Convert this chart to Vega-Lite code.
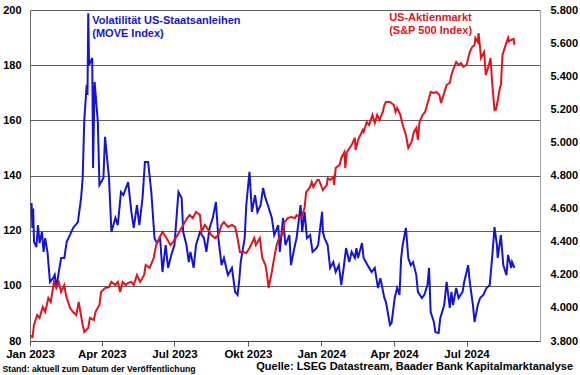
{
  "$schema": "https://vega.github.io/schema/vega-lite/v6.json",
  "width": 510,
  "height": 331,
  "autosize": {"type": "none"},
  "padding": {"left": 30, "top": 10, "right": 40, "bottom": 34},
  "background": "white",
  "config": {
    "view": {"stroke": null},
    "font": "Liberation Sans",
    "axis": {"labelFont": "Liberation Sans", "labelFontWeight": "bold", "labelFontSize": 11, "labelColor": "black"}
  },
  "title": {
    "text": "Quelle: LSEG Datastream, Baader Bank Kapitalmarktanalyse",
    "orient": "bottom", "anchor": "end", "frame": "group",
    "font": "Liberation Sans", "fontSize": 11, "fontWeight": "bold", "color": "black",
    "dx": 33, "dy": -12, "offset": 0
  },
  "datasets": {
    "move": [
      {"date":"2023-01-03","value":130},{"date":"2023-01-04","value":121},{"date":"2023-01-05","value":128},{"date":"2023-01-06","value":116},{"date":"2023-01-09","value":114},{"date":"2023-01-11","value":122},{"date":"2023-01-13","value":115.5},{"date":"2023-01-16","value":119.5},{"date":"2023-01-18","value":112.3},{"date":"2023-01-20","value":117.3},{"date":"2023-01-23","value":112},{"date":"2023-01-26","value":101.4},{"date":"2023-01-30","value":102.8},{"date":"2023-02-01","value":104},{"date":"2023-02-03","value":99.2},{"date":"2023-02-06","value":105},{"date":"2023-02-09","value":110.1},{"date":"2023-02-13","value":110.1},{"date":"2023-02-16","value":116},{"date":"2023-02-20","value":118.4},{"date":"2023-02-24","value":121},{"date":"2023-03-02","value":123.1},{"date":"2023-03-06","value":131.8},{"date":"2023-03-08","value":139.1},{"date":"2023-03-10","value":160},{"date":"2023-03-13","value":172.8},{"date":"2023-03-14","value":169.2},{"date":"2023-03-15","value":198.8},{"date":"2023-03-16","value":180.1},{"date":"2023-03-20","value":182.6},{"date":"2023-03-21","value":142.7},{"date":"2023-03-23","value":173.9},{"date":"2023-03-27","value":159.4},{"date":"2023-03-29","value":136.5},{"date":"2023-04-03","value":139.1},{"date":"2023-04-05","value":154},{"date":"2023-04-10","value":139.1},{"date":"2023-04-13","value":119.5},{"date":"2023-04-18","value":124.6},{"date":"2023-04-21","value":122},{"date":"2023-04-25","value":134},{"date":"2023-04-28","value":132.9},{"date":"2023-05-04","value":137.6},{"date":"2023-05-08","value":126.8},{"date":"2023-05-11","value":121},{"date":"2023-05-15","value":129.3},{"date":"2023-05-18","value":122},{"date":"2023-05-22","value":131.8},{"date":"2023-05-25","value":144.9},{"date":"2023-05-29","value":144.9},{"date":"2023-06-02","value":134},{"date":"2023-06-06","value":117.3},{"date":"2023-06-09","value":115.5},{"date":"2023-06-13","value":117.3},{"date":"2023-06-16","value":105},{"date":"2023-06-20","value":114.8},{"date":"2023-06-23","value":106.5},{"date":"2023-06-27","value":111.2},{"date":"2023-07-01","value":114.8},{"date":"2023-07-06","value":134},{"date":"2023-07-10","value":131.8},{"date":"2023-07-12","value":119.5},{"date":"2023-07-16","value":114.8},{"date":"2023-07-19","value":108.6},{"date":"2023-07-21","value":112.3},{"date":"2023-07-25","value":106.5},{"date":"2023-07-28","value":114.8},{"date":"2023-08-02","value":119.5},{"date":"2023-08-07","value":117.3},{"date":"2023-08-10","value":112.3},{"date":"2023-08-14","value":121},{"date":"2023-08-18","value":124.6},{"date":"2023-08-22","value":130.4},{"date":"2023-08-25","value":117.3},{"date":"2023-08-29","value":107.5},{"date":"2023-09-01","value":110.1},{"date":"2023-09-06","value":103.9},{"date":"2023-09-11","value":106.5},{"date":"2023-09-15","value":97.8},{"date":"2023-09-18","value":96.7},{"date":"2023-09-20","value":101.4},{"date":"2023-09-22","value":108.6},{"date":"2023-09-27","value":117.3},{"date":"2023-09-29","value":129.3},{"date":"2023-10-03","value":141.3},{"date":"2023-10-06","value":126.8},{"date":"2023-10-10","value":132.9},{"date":"2023-10-13","value":126.8},{"date":"2023-10-17","value":129.3},{"date":"2023-10-20","value":135.5},{"date":"2023-10-23","value":131.8},{"date":"2023-10-26","value":129.3},{"date":"2023-10-31","value":124.6},{"date":"2023-11-03","value":118.4},{"date":"2023-11-08","value":122},{"date":"2023-11-10","value":112.3},{"date":"2023-11-14","value":124.6},{"date":"2023-11-17","value":114.8},{"date":"2023-11-22","value":118.4},{"date":"2023-11-24","value":107.5},{"date":"2023-11-29","value":114.8},{"date":"2023-12-01","value":117.3},{"date":"2023-12-06","value":129.3},{"date":"2023-12-08","value":119.5},{"date":"2023-12-11","value":126.8},{"date":"2023-12-14","value":117.3},{"date":"2023-12-18","value":118.4},{"date":"2023-12-21","value":112.3},{"date":"2023-12-26","value":113.7},{"date":"2023-12-28","value":114.8},{"date":"2024-01-02","value":126.8},{"date":"2024-01-03","value":119.5},{"date":"2024-01-05","value":117.3},{"date":"2024-01-09","value":114.8},{"date":"2024-01-12","value":106.5},{"date":"2024-01-16","value":108.6},{"date":"2024-01-19","value":105},{"date":"2024-01-23","value":107.5},{"date":"2024-01-26","value":100.3},{"date":"2024-01-29","value":106.5},{"date":"2024-02-01","value":113.7},{"date":"2024-02-05","value":108.6},{"date":"2024-02-08","value":112.3},{"date":"2024-02-12","value":110.1},{"date":"2024-02-14","value":113.7},{"date":"2024-02-16","value":110.1},{"date":"2024-02-21","value":115.5},{"date":"2024-02-23","value":110.1},{"date":"2024-02-28","value":107.5},{"date":"2024-03-04","value":105},{"date":"2024-03-08","value":106.5},{"date":"2024-03-12","value":99.2},{"date":"2024-03-15","value":102.8},{"date":"2024-03-20","value":95.6},{"date":"2024-03-22","value":94.1},{"date":"2024-03-27","value":85.8},{"date":"2024-03-29","value":86.5},{"date":"2024-04-02","value":95.6},{"date":"2024-04-05","value":99.2},{"date":"2024-04-08","value":96.7},{"date":"2024-04-10","value":110.1},{"date":"2024-04-12","value":114.8},{"date":"2024-04-16","value":121},{"date":"2024-04-19","value":110.1},{"date":"2024-04-22","value":107.5},{"date":"2024-04-25","value":108.6},{"date":"2024-04-29","value":103.9},{"date":"2024-05-01","value":97.8},{"date":"2024-05-06","value":95.6},{"date":"2024-05-09","value":96.7},{"date":"2024-05-13","value":100.3},{"date":"2024-05-15","value":106.5},{"date":"2024-05-17","value":90.5},{"date":"2024-05-21","value":86.9},{"date":"2024-05-23","value":83.2},{"date":"2024-05-27","value":82.9},{"date":"2024-05-29","value":88.3},{"date":"2024-06-03","value":93},{"date":"2024-06-06","value":101.4},{"date":"2024-06-10","value":92},{"date":"2024-06-12","value":97.8},{"date":"2024-06-14","value":93},{"date":"2024-06-18","value":99.2},{"date":"2024-06-21","value":95.6},{"date":"2024-06-26","value":97.8},{"date":"2024-06-28","value":101.4},{"date":"2024-07-03","value":107.5},{"date":"2024-07-05","value":101.4},{"date":"2024-07-09","value":93},{"date":"2024-07-11","value":86.9},{"date":"2024-07-15","value":93},{"date":"2024-07-18","value":95.6},{"date":"2024-07-22","value":96.7},{"date":"2024-07-26","value":99.2},{"date":"2024-07-30","value":100.3},{"date":"2024-08-02","value":110.1},{"date":"2024-08-05","value":121.3},{"date":"2024-08-08","value":114.8},{"date":"2024-08-09","value":110.1},{"date":"2024-08-13","value":118.4},{"date":"2024-08-16","value":107.5},{"date":"2024-08-20","value":103.9},{"date":"2024-08-22","value":111.2},{"date":"2024-08-26","value":106.5},{"date":"2024-08-27","value":108.6},{"date":"2024-08-30","value":106.5}
    ],
    "spx": [
      {"date":"2023-01-03","value":3836},{"date":"2023-01-04","value":3818},{"date":"2023-01-06","value":3897},{"date":"2023-01-10","value":3957},{"date":"2023-01-13","value":3939},{"date":"2023-01-17","value":4006},{"date":"2023-01-20","value":3975},{"date":"2023-01-24","value":4060},{"date":"2023-01-27","value":4036},{"date":"2023-01-31","value":4157},{"date":"2023-02-03","value":4120},{"date":"2023-02-06","value":4157},{"date":"2023-02-09","value":4096},{"date":"2023-02-13","value":4138},{"date":"2023-02-15","value":4078},{"date":"2023-02-20","value":4000},{"date":"2023-02-24","value":3975},{"date":"2023-02-28","value":3957},{"date":"2023-03-03","value":4036},{"date":"2023-03-08","value":3897},{"date":"2023-03-10","value":3855},{"date":"2023-03-15","value":3879},{"date":"2023-03-17","value":3939},{"date":"2023-03-22","value":3927},{"date":"2023-03-24","value":3975},{"date":"2023-03-29","value":4018},{"date":"2023-03-31","value":4096},{"date":"2023-04-05","value":4120},{"date":"2023-04-10","value":4126},{"date":"2023-04-13","value":4157},{"date":"2023-04-18","value":4138},{"date":"2023-04-21","value":4157},{"date":"2023-04-24","value":4096},{"date":"2023-04-27","value":4157},{"date":"2023-05-01","value":4138},{"date":"2023-05-04","value":4151},{"date":"2023-05-08","value":4157},{"date":"2023-05-11","value":4138},{"date":"2023-05-15","value":4199},{"date":"2023-05-19","value":4157},{"date":"2023-05-24","value":4199},{"date":"2023-05-26","value":4259},{"date":"2023-05-31","value":4241},{"date":"2023-06-05","value":4302},{"date":"2023-06-08","value":4380},{"date":"2023-06-12","value":4422},{"date":"2023-06-16","value":4459},{"date":"2023-06-21","value":4422},{"date":"2023-06-26","value":4380},{"date":"2023-06-29","value":4398},{"date":"2023-07-05","value":4441},{"date":"2023-07-07","value":4459},{"date":"2023-07-12","value":4501},{"date":"2023-07-17","value":4543},{"date":"2023-07-20","value":4561},{"date":"2023-07-24","value":4543},{"date":"2023-07-28","value":4580},{"date":"2023-08-02","value":4561},{"date":"2023-08-04","value":4459},{"date":"2023-08-08","value":4501},{"date":"2023-08-11","value":4483},{"date":"2023-08-16","value":4441},{"date":"2023-08-21","value":4422},{"date":"2023-08-25","value":4441},{"date":"2023-08-29","value":4501},{"date":"2023-09-01","value":4519},{"date":"2023-09-06","value":4489},{"date":"2023-09-11","value":4501},{"date":"2023-09-15","value":4489},{"date":"2023-09-18","value":4422},{"date":"2023-09-21","value":4338},{"date":"2023-09-25","value":4338},{"date":"2023-09-29","value":4332},{"date":"2023-10-03","value":4362},{"date":"2023-10-09","value":4422},{"date":"2023-10-11","value":4380},{"date":"2023-10-16","value":4422},{"date":"2023-10-19","value":4302},{"date":"2023-10-23","value":4259},{"date":"2023-10-25","value":4199},{"date":"2023-10-27","value":4120},{"date":"2023-10-31","value":4217},{"date":"2023-11-02","value":4277},{"date":"2023-11-06","value":4380},{"date":"2023-11-09","value":4422},{"date":"2023-11-13","value":4441},{"date":"2023-11-16","value":4519},{"date":"2023-11-20","value":4543},{"date":"2023-11-24","value":4549},{"date":"2023-11-29","value":4543},{"date":"2023-12-01","value":4561},{"date":"2023-12-07","value":4543},{"date":"2023-12-11","value":4604},{"date":"2023-12-13","value":4700},{"date":"2023-12-18","value":4731},{"date":"2023-12-20","value":4761},{"date":"2023-12-22","value":4731},{"date":"2023-12-27","value":4773},{"date":"2023-12-29","value":4773},{"date":"2024-01-03","value":4712},{"date":"2024-01-08","value":4743},{"date":"2024-01-09","value":4785},{"date":"2024-01-12","value":4773},{"date":"2024-01-16","value":4791},{"date":"2024-01-17","value":4743},{"date":"2024-01-19","value":4845},{"date":"2024-01-24","value":4864},{"date":"2024-01-26","value":4906},{"date":"2024-01-30","value":4942},{"date":"2024-01-31","value":4845},{"date":"2024-02-02","value":4942},{"date":"2024-02-08","value":4984},{"date":"2024-02-12","value":5027},{"date":"2024-02-13","value":4954},{"date":"2024-02-16","value":5015},{"date":"2024-02-22","value":5075},{"date":"2024-02-23","value":5063},{"date":"2024-02-27","value":5123},{"date":"2024-03-01","value":5105},{"date":"2024-03-05","value":5166},{"date":"2024-03-08","value":5117},{"date":"2024-03-11","value":5166},{"date":"2024-03-14","value":5135},{"date":"2024-03-18","value":5184},{"date":"2024-03-20","value":5226},{"date":"2024-03-22","value":5244},{"date":"2024-03-27","value":5244},{"date":"2024-04-01","value":5226},{"date":"2024-04-03","value":5184},{"date":"2024-04-05","value":5208},{"date":"2024-04-09","value":5166},{"date":"2024-04-12","value":5105},{"date":"2024-04-16","value":5045},{"date":"2024-04-19","value":4966},{"date":"2024-04-23","value":5003},{"date":"2024-04-26","value":5063},{"date":"2024-04-29","value":5087},{"date":"2024-05-01","value":5015},{"date":"2024-05-03","value":5123},{"date":"2024-05-07","value":5166},{"date":"2024-05-10","value":5184},{"date":"2024-05-15","value":5268},{"date":"2024-05-17","value":5305},{"date":"2024-05-21","value":5299},{"date":"2024-05-24","value":5305},{"date":"2024-05-28","value":5286},{"date":"2024-05-30","value":5238},{"date":"2024-06-03","value":5299},{"date":"2024-06-06","value":5347},{"date":"2024-06-10","value":5359},{"date":"2024-06-12","value":5407},{"date":"2024-06-14","value":5437},{"date":"2024-06-18","value":5486},{"date":"2024-06-21","value":5468},{"date":"2024-06-24","value":5480},{"date":"2024-06-27","value":5456},{"date":"2024-07-01","value":5468},{"date":"2024-07-05","value":5546},{"date":"2024-07-08","value":5576},{"date":"2024-07-11","value":5589},{"date":"2024-07-12","value":5631},{"date":"2024-07-15","value":5607},{"date":"2024-07-16","value":5661},{"date":"2024-07-18","value":5570},{"date":"2024-07-19","value":5510},{"date":"2024-07-23","value":5546},{"date":"2024-07-25","value":5407},{"date":"2024-07-29","value":5468},{"date":"2024-07-31","value":5510},{"date":"2024-08-02","value":5365},{"date":"2024-08-05","value":5196},{"date":"2024-08-07","value":5200},{"date":"2024-08-08","value":5226},{"date":"2024-08-12","value":5335},{"date":"2024-08-13","value":5347},{"date":"2024-08-15","value":5528},{"date":"2024-08-19","value":5589},{"date":"2024-08-22","value":5631},{"date":"2024-08-23","value":5610},{"date":"2024-08-26","value":5619},{"date":"2024-08-29","value":5625},{"date":"2024-08-30","value":5589}
    ]
  },
  "layer": [
    {
      "layer": [
        {
          "data": {"name": "move"},
          "mark": {"type": "line", "color": "#1414d4", "strokeWidth": 2, "clip": true},
          "encoding": {
            "x": {
              "field": "date", "type": "temporal",
              "scale": {"domain": [{"year": 2023, "month": 1, "date": 1}, {"year": 2024, "month": 10, "date": 1}]},
              "axis": {
                "values": [{"year": 2023, "month": 1, "date": 1}, {"year": 2023, "month": 4, "date": 1}, {"year": 2023, "month": 7, "date": 1}, {"year": 2023, "month": 10, "date": 1}, {"year": 2024, "month": 1, "date": 1}, {"year": 2024, "month": 4, "date": 1}, {"year": 2024, "month": 7, "date": 1}],
                "labelExpr": "['Jan','Feb','Mär','Apr','Mai','Jun','Jul','Aug','Sep','Okt','Nov','Dez'][month(datum.value)] + ' ' + year(datum.value)",
                "labelFlush": false, "labelOverlap": false, "labelFontSize": 11.5, "labelPadding": 2,
                "grid": false, "tickSize": 5, "tickColor": "#555555", "domainColor": "#444444",
                "title": "Stand: aktuell zum Datum der Veröffentlichung",
                "titleFont": "Liberation Sans", "titleFontSize": 8.7, "titleFontWeight": "bold", "titleColor": "black",
                "titleAnchor": "start", "titleAlign": "left", "titleBaseline": "middle", "titleX": -28, "titleY": 27
              }
            },
            "y": {
              "field": "value", "type": "quantitative",
              "scale": {"domain": [80, 200], "nice": false, "zero": false},
              "axis": {
                "values": [80, 100, 120, 140, 160, 180, 200],
                "labelOverlap": false,
                "grid": true, "gridColor": "#5f5f5f", "gridWidth": 1,
                "ticks": false, "domainColor": "#666666", "labelPadding": 9, "title": null
              }
            }
          }
        },
        {
          "data": {"values": [{"series": "MOVE"}]},
          "mark": {"type": "text", "text": ["Volatilität US-Staatsanleihen", "(MOVE Index)"], "align": "left", "baseline": "alphabetic", "lineHeight": 12.5, "font": "Liberation Sans", "fontSize": 11, "fontWeight": "bold", "color": "#1414d4"},
          "encoding": {
            "x": {"datum": {"year": 2023, "month": 3, "date": 20}, "type": "temporal"},
            "y": {"datum": 194.9, "type": "quantitative"}
          }
        },
        {
          "data": {"values": [{"series": "S&P 500"}]},
          "mark": {"type": "text", "text": ["US-Aktienmarkt", "(S&P 500 Index)"], "align": "left", "baseline": "alphabetic", "lineHeight": 12.5, "font": "Liberation Sans", "fontSize": 11, "fontWeight": "bold", "color": "#e3131b"},
          "encoding": {
            "x": {"datum": {"year": 2024, "month": 3, "date": 26}, "type": "temporal"},
            "y": {"datum": 196.0, "type": "quantitative"}
          }
        }
      ]
    },
    {
      "data": {"name": "spx"},
      "mark": {"type": "line", "color": "#e3131b", "strokeWidth": 2, "clip": true},
      "encoding": {
        "x": {"field": "date", "type": "temporal"},
        "y": {
          "field": "value", "type": "quantitative",
          "scale": {"domain": [3800, 5800], "nice": false, "zero": false},
          "axis": {
            "orient": "right",
            "values": [3800, 4000, 4200, 4400, 4600, 4800, 5000, 5200, 5400, 5600, 5800],
            "labelExpr": "replace(format(datum.value, ','), ',', '.')",
            "labelOverlap": false,
            "grid": false, "ticks": false, "domainColor": "#a0a0a0", "labelPadding": 10, "title": null
          }
        }
      }
    }
  ],
  "resolve": {"scale": {"y": "independent"}}
}
